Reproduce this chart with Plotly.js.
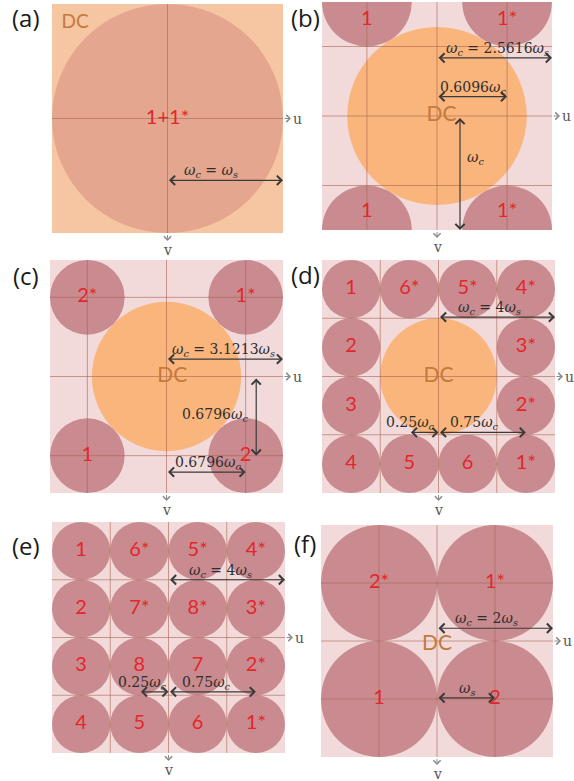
<!DOCTYPE html>
<html>
<head>
<meta charset="utf-8">
<script src="https://cdn.plot.ly/plotly-3.0.1.min.js"></script>
<style>
  html, body { margin: 0; padding: 0; background: #ffffff; }
  #chart { width: 574px; height: 781px; }
</style>
</head>
<body>
<div id="chart"></div>
<script>
// Spectrum layouts (u, v in units of the cutoff frequency ωc, v pointing down)
const panelTags   = ['(a)', '(b)', '(c)', '(d)', '(e)', '(f)'];
const cutoffRatio = [1, 2.5616, 3.1213, 4, 4, 2];          // ωc / ωs
const showDC      = [true, true, true, true, false, false];

// sideband centres and their labels
const uA = [0];
const vA = [0];
const labA = ['1+1*'];

const uB = [-0.6096, 0.6096, -0.6096, 0.6096];
const vB = [-1, -1, 1, 1];
const labB = ['1', '1*', '1', '1*'];

const uC = [-0.6796, 0.6796, -0.6796, 0.6796];
const vC = [-0.6796, -0.6796, 0.6796, 0.6796];
const labC = ['2*', '1*', '1', '2'];

const uD = [-0.75, -0.25, 0.25, 0.75, -0.75, 0.75, -0.75, 0.75, -0.75, -0.25, 0.25, 0.75];
const vD = [-0.75, -0.75, -0.75, -0.75, -0.25, -0.25, 0.25, 0.25, 0.75, 0.75, 0.75, 0.75];
const labD = ['1', '6*', '5*', '4*', '2', '3*', '3', '2*', '4', '5', '6', '1*'];

const uE = [-0.75, -0.25, 0.25, 0.75, -0.75, -0.25, 0.25, 0.75, -0.75, -0.25, 0.25, 0.75, -0.75, -0.25, 0.25, 0.75];
const vE = [-0.75, -0.75, -0.75, -0.75, -0.25, -0.25, -0.25, -0.25, 0.25, 0.25, 0.25, 0.25, 0.75, 0.75, 0.75, 0.75];
const labE = ['1', '6*', '5*', '4*', '2', '7*', '8*', '3*', '3', '8', '7', '2*', '4', '5', '6', '1*'];

const uF = [-0.5, 0.5, -0.5, 0.5];
const vF = [-0.5, -0.5, 0.5, 0.5];
const labF = ['2*', '1*', '1', '2'];

// grid lines (same positions along u and v)
const gridA = [0];
const gridB = [-0.6096, 0, 0.6096];
const gridC = [-0.6796, 0, 0.6796];
const gridD = [-0.5, 0, 0.5];
const gridE = [-0.5, 0, 0.5];
const gridF = [-0.5, 0, 0.5];

// DC label position
const dcLabU = [-0.8, 0.04, 0.05, 0, null, 0];
const dcLabV = [-0.83, 0, 0, 0, null, 0.03];

// dimension arrows: [u0, v0, u1, v1]
const wc = '<i>ω</i><sub><i>c</i></sub>';
const ws = '<i>ω</i><sub><i>s</i></sub>';
const arrowsA = [[0, 0.54, 1, 0.54]];
const arrowsB = [[0, -0.51, 1, -0.51], [0, -0.17, 0.6096, -0.17], [0.2, 0, 0.2, 1]];
const arrowsC = [[0, -0.15, 1, -0.15], [0.77, 0, 0.77, 0.6796], [0, 0.82, 0.6796, 0.82]];
const arrowsD = [[0, -0.51, 1, -0.51], [-0.25, 0.48, 0, 0.48], [0, 0.48, 0.75, 0.48]];
const arrowsE = [[0, -0.5, 1, -0.5], [-0.25, 0.47, 0, 0.47], [0, 0.47, 0.75, 0.47]];
const arrowsF = [[0, -0.11, 1, -0.11], [0, 0.49, 0.5, 0.49]];

// dimension labels: [text, u, v, xanchor, yanchor]
const notesA = [[wc + ' = ' + ws, 0.38, 0.54, 'center', 'bottom']];
const notesB = [[wc + ' = 2.5616' + ws, 0.53, -0.51, 'center', 'bottom'],
                ['0.6096' + wc, 0.31, -0.17, 'center', 'bottom'],
                [wc, 0.24, 0.37, 'left', 'middle']];
const notesC = [[wc + ' = 3.1213' + ws, 0.49, -0.15, 'center', 'bottom'],
                ['0.6796' + wc, 0.72, 0.33, 'right', 'middle'],
                ['0.6796' + wc, 0.36, 0.82, 'center', 'bottom']];
const notesD = [[wc + ' = 4' + ws, 0.44, -0.51, 'center', 'bottom'],
                ['0.25' + wc, -0.01, 0.48, 'right', 'bottom'],
                ['0.75' + wc, 0.31, 0.48, 'center', 'bottom']];
const notesE = [[wc + ' = 4' + ws, 0.45, -0.5, 'center', 'bottom'],
                ['0.25' + wc, 0.0, 0.47, 'right', 'bottom'],
                ['0.75' + wc, 0.33, 0.47, 'center', 'bottom']];
const notesF = [[wc + ' = 2' + ws, 0.43, -0.11, 'center', 'bottom'],
                [ws, 0.26, 0.49, 'center', 'bottom']];

const sbU = [uA, uB, uC, uD, uE, uF];
const sbV = [vA, vB, vC, vD, vE, vF];
const sbLab = [labA, labB, labC, labD, labE, labF];
const grids = [gridA, gridB, gridC, gridD, gridE, gridF];
const arrows = [arrowsA, arrowsB, arrowsC, arrowsD, arrowsE, arrowsF];
const notes = [notesA, notesB, notesC, notesD, notesE, notesF];

// page geometry (pixels) of each square frequency window: [left, right, top, bottom]
const W = 574, H = 781;
const boxes = [[52, 283, 4, 233], [322, 552, 2, 230], [50, 283, 260, 493],
               [322, 555, 260, 493], [52, 285, 522, 753], [321, 553, 525, 757]];

// colours
const pinkBg = '#f2dadb';
const sideColor = ['#e4a68e', '#c98b90', '#c98b90', '#c98b90', '#c98b90', '#c98b90'];
const dcColor = ['#f6c5a1', '#fab57c', '#fab57c', '#fab57c', '#fab57c', '#fab57c'];
const gridColor = 'rgba(170,100,80,0.6)';
const redText = '#e3262b';
const dcText = '#c4793d';
const arrowCol = '#3a3a3a';
const axisCol = '#8c8c8c';

const sansFont = 'Lato, "Open Sans", sans-serif';
const serifFont = '"DejaVu Serif", "Liberation Serif", serif';

const px = x => x / W;
const py = y => 1 - y / H;

const layout = {
  width: W, height: H,
  margin: {l: 0, r: 0, t: 0, b: 0},
  paper_bgcolor: '#ffffff',
  plot_bgcolor: pinkBg,
  showlegend: false,
  shapes: [],
  annotations: []
};
const traces = [];

panelTags.forEach((tag, i) => {
  const n = i === 0 ? '' : String(i + 1);
  const xId = 'x' + n, yId = 'y' + n;
  const [L, R, T, B] = boxes[i];
  layout['xaxis' + n] = {domain: [px(L), px(R)], range: [-1, 1], visible: false,
                         fixedrange: true, anchor: yId};
  layout['yaxis' + n] = {domain: [py(B), py(T)], range: [1, -1], visible: false,
                         fixedrange: true, anchor: xId};

  const rs = 1 / cutoffRatio[i];      // sideband radius ωs
  const rdc = 2 / cutoffRatio[i];     // DC term radius 2ωs

  if (showDC[i]) {
    layout.shapes.push({type: 'circle', xref: xId, yref: yId, layer: 'below',
      x0: -rdc, x1: rdc, y0: -rdc, y1: rdc, fillcolor: dcColor[i], line: {width: 0}});
  }
  sbU[i].forEach((u, k) => {
    const v = sbV[i][k];
    layout.shapes.push({type: 'circle', xref: xId, yref: yId, layer: 'below',
      x0: u - rs, x1: u + rs, y0: v - rs, y1: v + rs,
      fillcolor: sideColor[i], line: {width: 0}});
  });
  grids[i].forEach(g => {
    layout.shapes.push({type: 'line', xref: xId, yref: yId, layer: 'below',
      x0: g, x1: g, y0: -1, y1: 1, line: {color: gridColor, width: 1}});
    layout.shapes.push({type: 'line', xref: xId, yref: yId, layer: 'below',
      x0: -1, x1: 1, y0: g, y1: g, line: {color: gridColor, width: 1}});
  });

  // sideband labels
  traces.push({
    type: 'scatter', mode: 'text', xaxis: xId, yaxis: yId,
    x: sbU[i], y: sbV[i].map(v => Math.max(-0.84, Math.min(0.84, v))),
    text: sbLab[i], cliponaxis: false, hoverinfo: 'skip',
    textfont: {family: sansFont, size: 20, color: redText}
  });
  if (dcLabU[i] !== null) {
    traces.push({
      type: 'scatter', mode: 'text', xaxis: xId, yaxis: yId,
      x: [dcLabU[i]], y: [dcLabV[i]], text: ['DC'], cliponaxis: false, hoverinfo: 'skip',
      textfont: {family: sansFont, size: i === 0 ? 19 : 21, color: dcText}
    });
  }

  // double-headed dimension arrows
  arrows[i].forEach(a => {
    layout.annotations.push({xref: xId, yref: yId, axref: xId, ayref: yId,
      x: a[2], y: a[3], ax: a[0], ay: a[1], text: ' ', showarrow: true,
      arrowside: 'end+start', arrowhead: 4, startarrowhead: 4,
      arrowsize: 1.5, startarrowsize: 1.5, arrowwidth: 1.2, arrowcolor: arrowCol,
      standoff: 0, startstandoff: 0, font: {size: 1}});
  });
  notes[i].forEach(t => {
    layout.annotations.push({xref: xId, yref: yId, x: t[1], y: t[2], text: t[0],
      showarrow: false, xanchor: t[3], yanchor: t[4], yshift: t[4] === 'bottom' ? -2 : 0,
      font: {family: serifFont, size: 14, color: '#2e2e2e'}});
  });

  // u and v axis arrows leaving the window
  const cx = (L + R) / 2, cy = (T + B) / 2;
  layout.annotations.push({xref: 'paper', yref: 'paper', x: px(R + 8), y: py(cy),
    ax: -8, ay: 0, text: ' ', showarrow: true, arrowhead: 4, arrowsize: 1.4,
    arrowwidth: 1, arrowcolor: axisCol, standoff: 0, font: {size: 1}});
  layout.annotations.push({xref: 'paper', yref: 'paper', x: px(R + 8), y: py(cy),
    text: 'u', showarrow: false, xanchor: 'left', yanchor: 'middle',
    font: {family: serifFont, size: 14, color: '#555555'}});
  layout.annotations.push({xref: 'paper', yref: 'paper', x: px(cx), y: py(B + 8),
    ax: 0, ay: -8, text: ' ', showarrow: true, arrowhead: 4, arrowsize: 1.4,
    arrowwidth: 1, arrowcolor: axisCol, standoff: 0, font: {size: 1}});
  layout.annotations.push({xref: 'paper', yref: 'paper', x: px(cx), y: py(B + 7),
    text: 'v', showarrow: false, xanchor: 'center', yanchor: 'top',
    font: {family: serifFont, size: 14, color: '#555555'}});

  // panel tag
  const tagX = i % 2 === 0 ? 26 : 305;
  const tagY = [18, 18, 275, 274, 545, 543][i];
  layout.annotations.push({xref: 'paper', yref: 'paper', x: px(tagX), y: py(tagY),
    text: tag, showarrow: false, xanchor: 'center', yanchor: 'middle',
    font: {family: '"Open Sans", sans-serif', size: 24, color: '#1a1a1a'}});
});

Plotly.newPlot('chart', traces, layout, {staticPlot: true, displayModeBar: false});
</script>
</body>
</html>
